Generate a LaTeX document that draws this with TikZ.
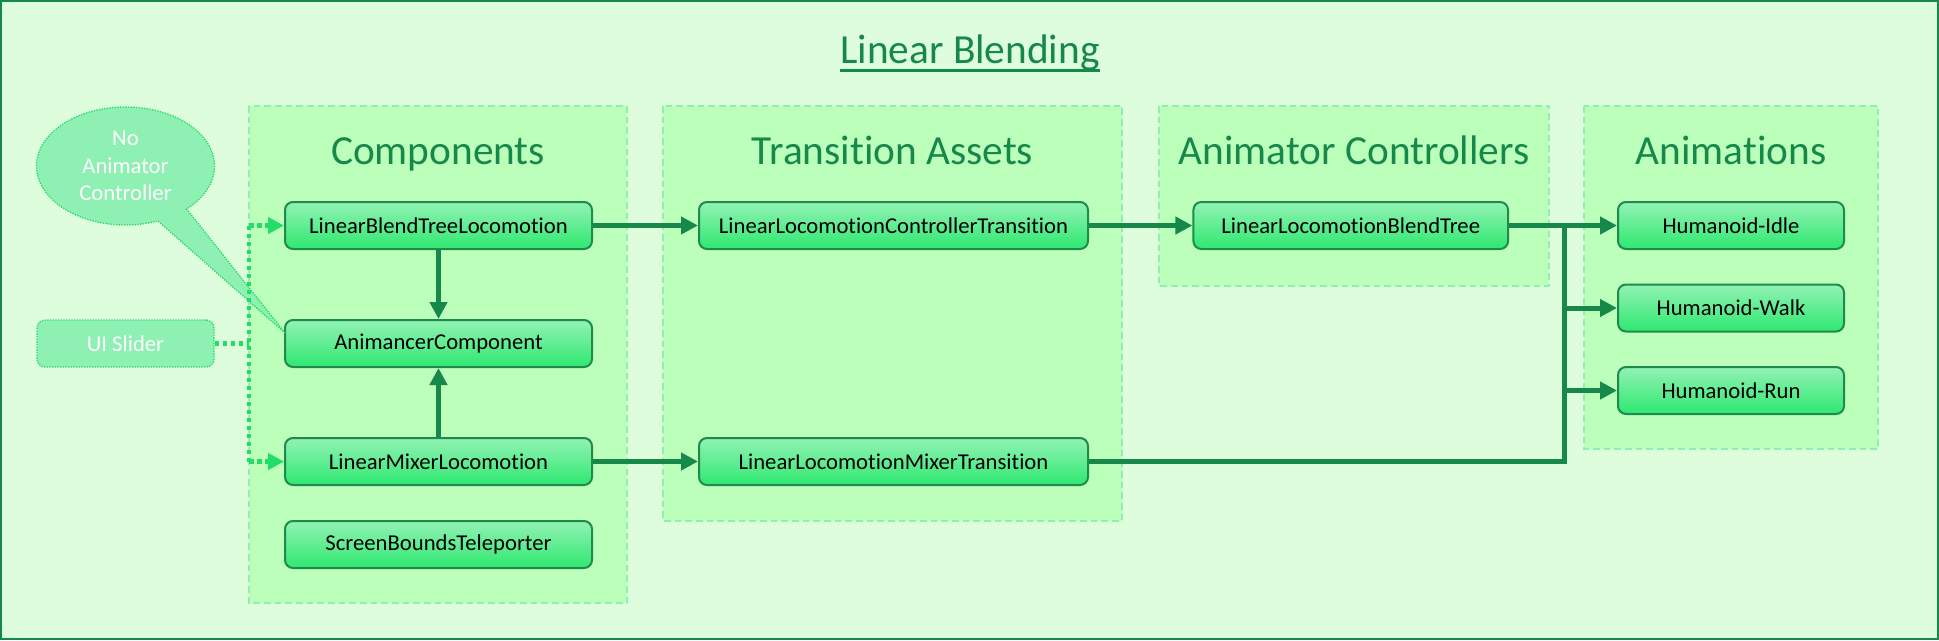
\documentclass[tikz,border=0pt]{standalone}
\usepackage{fontspec}
\setmainfont{Carlito}[Ligatures={NoCommon}]
\usetikzlibrary{arrows.meta,shapes.callouts}
\definecolor{bgc}{HTML}{DDFDDD}
\definecolor{grpfill}{HTML}{BBFFBB}
\definecolor{grpline}{HTML}{8EEFB0}
\definecolor{dkg}{HTML}{15884A}
\definecolor{boxtop}{HTML}{92F2B4}
\definecolor{boxbot}{HTML}{2EE870}
\definecolor{boxline}{HTML}{1F8A4C}
\definecolor{calfill}{HTML}{8EF0B2}
\definecolor{dotc}{HTML}{22DD66}
\tikzset{
  grp/.style={fill=grpfill, draw=grpline, line width=1.2pt, dash pattern=on 5pt off 3pt},
  grptitle/.style={text=dkg, font=\fontsize{31}{36}\selectfont, anchor=base, inner sep=0pt},
  box/.style={draw=boxline, line width=1.5pt, rounded corners=6pt, top color=boxtop, bottom color=boxbot,
    minimum height=35.25pt, inner sep=0pt, font=\fontsize{17}{20}\selectfont, text=black},
  comp/.style={box, minimum width=230.25pt},
  trans/.style={box, minimum width=291.75pt},
  ctrl/.style={box, minimum width=236pt},
  anim/.style={box, minimum width=169.5pt},
  link/.style={draw=dkg, line width=3.75pt},
  arr/.style={link, -{Triangle[length=12.75pt,width=12.75pt]}},
  dotline/.style={draw=dotc, line width=3.5pt, dash pattern=on 3.5pt off 2.5pt},
  dotarr/.style={dotline, -{Triangle[length=12pt,width=12pt]}},
  note/.style={fill=calfill, draw=dotc, line width=1pt, dash pattern=on 1pt off 1pt,
    text=white, font=\fontsize{17}{20.5}\selectfont, inner sep=0pt, align=center}
}
\begin{document}
\begin{tikzpicture}[x=0.75pt,y=-0.75pt]
\useasboundingbox (0,0) rectangle (1939,640);
\fill[bgc] (0,0) rectangle (1939,640);
\draw[dkg, line width=1.5pt] (1,1) rectangle (1938,639);

% title
\node[text=dkg, font=\fontsize{31}{36}\selectfont, anchor=base, inner sep=0pt] (title) at (970,63) {Linear Blending};
\draw[dkg, line width=1.8pt] ([yshift=-5.5pt]title.base west) -- ([yshift=-5.5pt]title.base east);

% groups
\draw[grp] (249,106) rectangle (627,603);
\draw[grp] (663,106) rectangle (1122,521);
\draw[grp] (1159,106) rectangle (1549,286);
\draw[grp] (1584,106) rectangle (1878,449);

\node[grptitle] (tcomp) at (438,164) {Components};
\node[grptitle] (ttrans) at (892.5,164) {Transition Assets};
\node[grptitle] (tctrl) at (1354,164) {Animator Controllers};
\node[grptitle] (tanim) at (1731,164) {Animations};

% boxes
\node[comp] (lbt) at (438.5,225.5) {LinearBlendTreeLocomotion};
\node[comp] (ac) at (438.5,343.5) {AnimancerComponent};
\node[comp] (lmx) at (438.5,461.5) {LinearMixerLocomotion};
\node[comp] (sbt) at (438.5,544.5) {ScreenBoundsTeleporter};

\node[trans] (llc) at (893.5,225.5) {LinearLocomotionControllerTransition};
\node[trans] (llm) at (893.5,461.5) {LinearLocomotionMixerTransition};

\node[ctrl] (llbt) at (1350.75,225.5) {LinearLocomotionBlendTree};

\node[anim] (idle) at (1731,225.5) {Humanoid-Idle};
\node[anim] (walk) at (1731,308) {Humanoid-Walk};
\node[anim] (run) at (1731,390.5) {Humanoid-Run};

% callout and slider
\node[note, ellipse callout, minimum width=133.5pt, minimum height=88.5pt,
  callout absolute pointer={(285,333)}, callout pointer arc=22] (callout) at (125.5,166)
  {No\\Animator\\Controller};
\node[note, rounded corners=6pt, minimum width=132.75pt, minimum height=35.25pt] (slider) at (125.5,343.5) {UI Slider};

% dotted connectors
\coordinate (dtop) at (249,225.5);
\coordinate (dbot) at (249,461.5);
\coordinate (dmid) at (249,343.5);
\draw[dotline] (slider.east) -- (dmid);
\draw[dotline] (dtop) -- (dbot);
\draw[dotarr] (dtop) -- (lbt.west);
\draw[dotarr] (dbot) -- (lmx.west);

% solid connectors
\draw[arr] (lbt.south) -- (ac.north);
\draw[arr] (lmx.north) -- (ac.south);
\draw[arr] (lbt.east) -- (llc.west);
\draw[arr] (lmx.east) -- (llm.west);
\draw[arr] (llc.east) -- (llbt.west);
\draw[arr] (llbt.east) -- (idle.west);
\coordinate (btop) at (1564,225.5);
\coordinate (bbot) at (1564,461.5);
\draw[link] (llm.east) -- (bbot) -- (btop);
\draw[arr] (walk.west -| btop) -- (walk.west);
\draw[arr] (run.west -| btop) -- (run.west);
\end{tikzpicture}
\end{document}
